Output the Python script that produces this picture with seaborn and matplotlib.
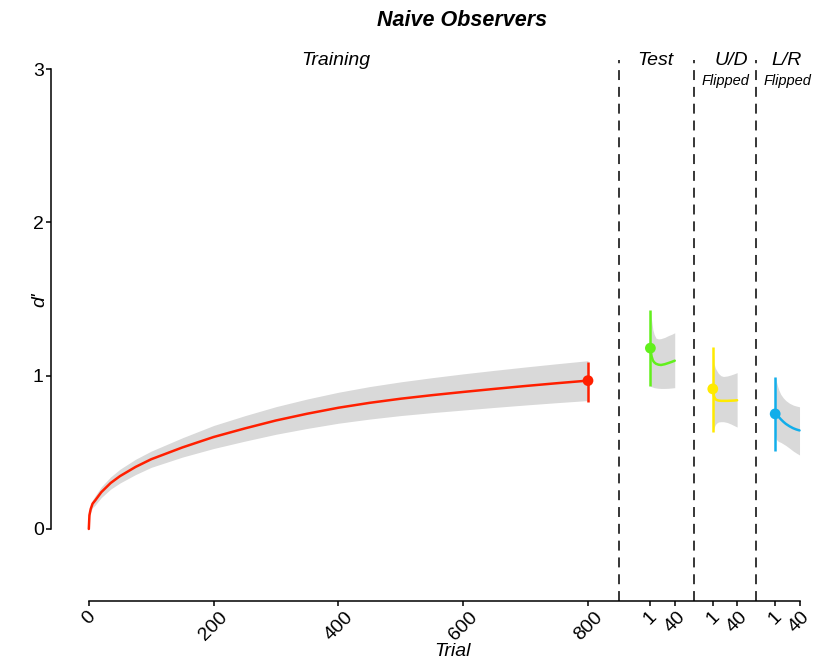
import numpy as np
import pandas as pd
import matplotlib
matplotlib.use("Agg")
import matplotlib.pyplot as plt
import seaborn as sns

# ---------------- data ----------------
train_trial = [0, 1, 3, 6, 10, 20, 35, 50, 75, 100, 150, 200, 250, 300, 350,
               400, 450, 500, 550, 600, 650, 700, 750, 800]
train_mean = [0, 0.09, 0.13, 0.165, 0.185, 0.24, 0.30, 0.345, 0.405, 0.455, 0.532,
              0.60, 0.656, 0.708, 0.752, 0.791, 0.823, 0.85, 0.873, 0.894, 0.914,
              0.933, 0.951, 0.968]
train_lower = [0, 0.08, 0.11, 0.14, 0.155, 0.205, 0.26, 0.30, 0.355, 0.402, 0.469,
               0.525, 0.573, 0.618, 0.656, 0.69, 0.717, 0.74, 0.759, 0.776, 0.793,
               0.809, 0.824, 0.838]
train_upper = [0, 0.10, 0.15, 0.19, 0.215, 0.275, 0.34, 0.39, 0.455, 0.508, 0.595,
               0.675, 0.739, 0.798, 0.848, 0.892, 0.929, 0.96, 0.987, 1.012, 1.035,
               1.057, 1.078, 1.098]
train_err = [0.831, 1.092]

seg_trial = [1, 2, 3, 5, 7, 10, 14, 18, 24, 30, 35, 40]

test_mean = [1.18, 1.15, 1.125, 1.10, 1.088, 1.078, 1.072, 1.07, 1.075, 1.083, 1.09, 1.098]
test_upper = [1.43, 1.40, 1.36, 1.30, 1.27, 1.245, 1.24, 1.242, 1.25, 1.262, 1.27, 1.28]
test_lower = [0.93, 0.93, 0.928, 0.925, 0.922, 0.92, 0.918, 0.917, 0.917, 0.918, 0.92, 0.922]
test_err = [0.93, 1.43]

ud_mean = [0.914, 0.89, 0.865, 0.848, 0.842, 0.838, 0.836, 0.836, 0.836, 0.837, 0.838, 0.84]
ud_upper = [1.19, 1.16, 1.08, 1.05, 1.035, 1.015, 1.0, 0.995, 0.998, 1.005, 1.012, 1.02]
ud_lower = [0.631, 0.646, 0.66, 0.68, 0.69, 0.698, 0.70, 0.70, 0.695, 0.685, 0.675, 0.665]
ud_err = [0.631, 1.19]

lr_mean = [0.751, 0.748, 0.745, 0.738, 0.73, 0.716, 0.70, 0.686, 0.67, 0.657, 0.649, 0.643]
lr_upper = [0.994, 0.98, 0.961, 0.93, 0.905, 0.878, 0.855, 0.838, 0.82, 0.808, 0.802, 0.797]
lr_lower = [0.62, 0.60, 0.585, 0.575, 0.57, 0.565, 0.555, 0.545, 0.527, 0.508, 0.495, 0.483]
lr_err = [0.509, 0.994]

tick_labels = ["0", "200", "400", "600", "800", "1", "40", "1", "40", "1", "40"]

# ---------------- layout constants ----------------
RED, GREEN, YELLOW, BLUE = "#FF1F00", "#62F01C", "#FFEA00", "#12AEEA"
BAND = "#D9D9D9"
offsets = {"test": 899, "ud": 999, "lr": 1099}
dividers = [850, 969.5, 1069.5]
LW = 1.8

sns.set_theme(style="ticks")
plt.rcParams["font.family"] = ["Liberation Sans", "DejaVu Sans"]
plt.rcParams["text.color"] = "black"

fig = plt.figure(figsize=(8.13, 6.62), dpi=100)
ax = fig.add_axes([51 / 813, 1 - 601 / 662, (810 - 51) / 813, (601 - 60) / 662])

# training
df_train = pd.DataFrame({"trial": train_trial, "mean": train_mean,
                         "lo": train_lower, "hi": train_upper})
ax.fill_between(df_train["trial"], df_train["lo"], df_train["hi"],
                color=BAND, lw=0, zorder=1)
sns.lineplot(data=df_train, x="trial", y="mean", color=RED, lw=LW,
             ax=ax, zorder=3, sort=True)
last = train_trial[-1]
ax.vlines(last, train_err[0], train_err[1], color=RED, lw=LW, zorder=4)
sns.scatterplot(x=[last], y=[train_mean[-1]], color=RED, s=60,
                edgecolor="none", ax=ax, zorder=5)

segments = [
    ("test", test_mean, test_lower, test_upper, test_err, GREEN),
    ("ud", ud_mean, ud_lower, ud_upper, ud_err, YELLOW),
    ("lr", lr_mean, lr_lower, lr_upper, lr_err, BLUE),
]
for key, m, lo, hi, err, col in segments:
    x = [offsets[key] + t for t in seg_trial]
    df = pd.DataFrame({"x": x, "mean": m, "lo": lo, "hi": hi})
    ax.fill_between(df["x"], df["lo"], df["hi"], color=BAND, lw=0, zorder=1)
    sns.lineplot(data=df, x="x", y="mean", color=col, lw=LW, ax=ax, zorder=3)
    ax.vlines(x[0], err[0], err[1], color=col, lw=LW, zorder=4)
    sns.scatterplot(x=[x[0]], y=[m[0]], color=col, s=60, edgecolor="none",
                    ax=ax, zorder=5)

for d in dividers:
    ax.axvline(d, color="black", lw=1.1, ls=(0, (6.5, 4.5)), zorder=2)

# axes styling
ax.set_xlim(-60.6, 1155.8)
ax.set_ylim(-0.47, 3.06)
for s in ["top", "right"]:
    ax.spines[s].set_visible(False)
ax.spines["left"].set_bounds(0, 3)
ax.spines["bottom"].set_bounds(0, offsets["lr"] + 40)
for s in ["left", "bottom"]:
    ax.spines[s].set_linewidth(1.1)
    ax.spines[s].set_color("black")

xt = [0, 200, 400, 600, 800,
      offsets["test"] + 1, offsets["test"] + 40,
      offsets["ud"] + 1, offsets["ud"] + 40,
      offsets["lr"] + 1, offsets["lr"] + 40]
ax.set_xticks(xt)
ax.set_xticklabels(tick_labels, rotation=45, ha="center", fontsize=14)
ax.set_yticks([0, 1, 2, 3])
ax.set_yticklabels(["0", "1", "2", "3"], fontsize=14)
ax.tick_params(axis="both", length=3.8, width=1.1, color="black", pad=1.5,
               labelcolor="black")
ax.set_xlabel("")
ax.set_ylabel("")
ax.grid(False)

# texts
kw = dict(style="italic", ha="center", va="center", color="black")
ax.text(396, 3.055, "Training", fontsize=14, **kw)
ax.text(908, 3.055, "Test", fontsize=14, **kw)
ax.text(1029, 3.055, "U/D", fontsize=14, **kw)
ax.text(1020, 2.924, "Flipped", fontsize=10.5, **kw)
ax.text(1119, 3.055, "L/R", fontsize=14, **kw)
ax.text(1120, 2.924, "Flipped", fontsize=10.5, **kw)

fig.text(462 / 813, 1 - 20 / 662, "Naive Observers", fontsize=15.5,
         weight="bold", **kw)
fig.text(452 / 813, 1 - 652 / 662, "Trial", fontsize=14, **kw)
fig.text(40 / 813, 1 - 300 / 662, "d'", fontsize=14, rotation=90, **kw)

fig.savefig("out.png", dpi=100)
